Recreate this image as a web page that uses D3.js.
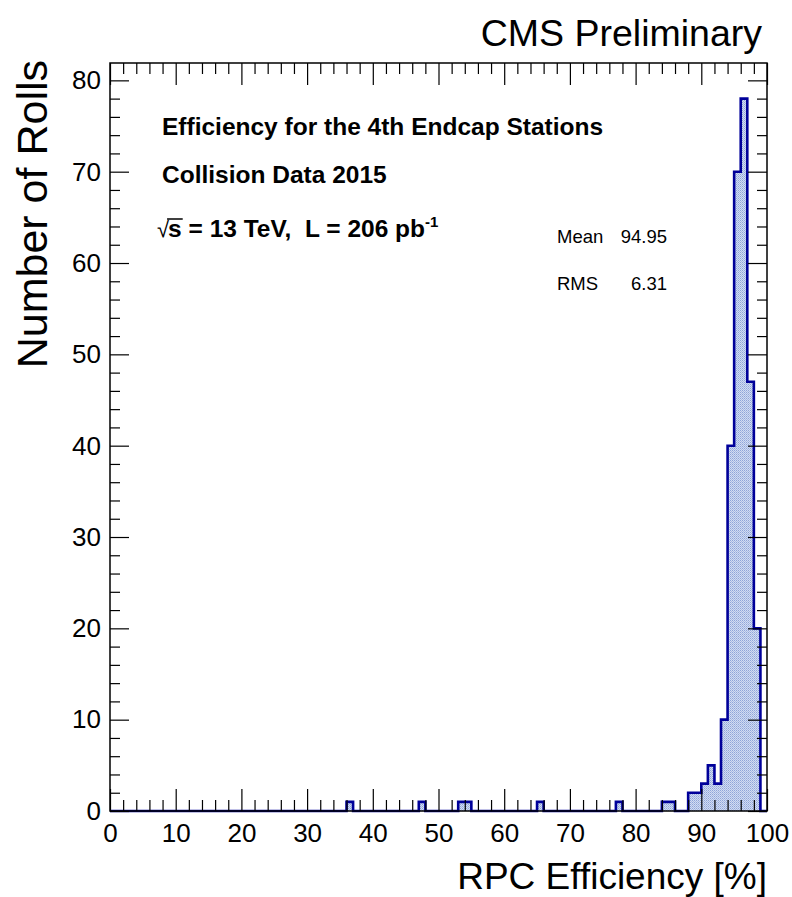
<!DOCTYPE html>
<html>
<head>
<meta charset="utf-8">
<script src="https://cdn.jsdelivr.net/npm/d3@7"></script>
<style>
  body { margin: 0; background: #fff; }
  svg text { font-family: "Liberation Sans", Arial, Helvetica, sans-serif; fill: #000; }
</style>
</head>
<body>
<script>
// histogram contents (1% bins, only the non-empty ones)
var binLow = [36, 47, 53, 54, 65, 77, 84, 85, 88, 89, 90, 91, 92, 93, 94, 95, 96, 97, 98]
var binCount = [1, 1, 1, 1, 1, 1, 1, 1, 2, 2, 3, 5, 3, 10, 40, 70, 78, 47, 20]
var xTicks = [0, 10, 20, 30, 40, 50, 60, 70, 80, 90, 100]
var yTicks = [0, 10, 20, 30, 40, 50, 60, 70, 80]
var statNames = ["Mean", "RMS"]
var statValues = ["94.95", "6.31"]
var infoLines = ["Efficiency for the 4th Endcap Stations", "Collision Data 2015"]

// full 100 bin table
var bins = d3.range(0, 100).map(function(i) {
    var k = binLow.indexOf(i)
    return { x0: i, x1: i + 1, n: k < 0 ? 0 : binCount[k] }
})

var W = 792, H = 897
var frameL = 110, frameR = 767, frameT = 63, frameB = 811

var svg = d3.select("body").append("svg").attr("width", W).attr("height", H)

var x = d3.scaleLinear().domain([0, 100]).range([frameL, frameR])
var y = d3.scaleLinear().domain([0, 81.9]).range([frameB, frameT])

// fill pattern (ROOT style dotted fill)
var pat = svg.append("defs").append("pattern").attr("id", "dots")
    .attr("width", 2).attr("height", 2).attr("patternUnits", "userSpaceOnUse")
pat.append("rect").attr("width", 2).attr("height", 2).attr("fill", "#d2dcf2")
pat.append("rect").attr("width", 1).attr("height", 1).attr("fill", "#8fa5d9")
pat.append("rect").attr("x", 1).attr("y", 1).attr("width", 1).attr("height", 1).attr("fill", "#a9bbe4")

// step outline
var pts = [[x(0), y(0)]]
bins.forEach(function(b) {
    pts.push([x(b.x0), y(b.n)])
    pts.push([x(b.x1), y(b.n)])
})
pts.push([x(100), y(0)])
var line = d3.line()

svg.append("path").attr("d", line(pts) + "Z").attr("fill", "url(#dots)").attr("stroke", "none")
svg.append("path").attr("d", line(pts)).attr("fill", "none")
    .attr("stroke", "#00009a").attr("stroke-width", 2.6).attr("stroke-linejoin", "miter")

// ticks (ROOT style, pointing inwards on all four sides)
function tickAxis(axis, tx, ty, vals, size) {
    var g = svg.append("g").attr("transform", "translate(" + tx + "," + ty + ")")
        .call(axis.tickValues(vals).tickSize(size).tickFormat(""))
    g.select(".domain").remove()
    g.selectAll("line").attr("stroke", "#000").attr("stroke-width", 1.2)
}
var xMinor = d3.range(0, 101, 2).filter(function(v) { return v % 10 })
var yMinor = d3.range(0, 81, 2).filter(function(v) { return v % 10 })
tickAxis(d3.axisTop(x), 0, frameB, xTicks, 22)
tickAxis(d3.axisTop(x), 0, frameB, xMinor, 11)
tickAxis(d3.axisBottom(x), 0, frameT, xTicks, 22)
tickAxis(d3.axisBottom(x), 0, frameT, xMinor, 11)
tickAxis(d3.axisRight(y), frameL, 0, yTicks, 19)
tickAxis(d3.axisRight(y), frameL, 0, yMinor, 10)
tickAxis(d3.axisLeft(y), frameR, 0, yTicks, 19)
tickAxis(d3.axisLeft(y), frameR, 0, yMinor, 10)

// frame
svg.append("rect").attr("x", frameL).attr("y", frameT).attr("width", frameR - frameL).attr("height", frameB - frameT)
    .attr("fill", "none").attr("stroke", "#000").attr("stroke-width", 1.5)

// tick labels
var xl = svg.append("g").attr("transform", "translate(0," + frameB + ")")
    .call(d3.axisBottom(x).tickValues(xTicks).tickSize(0).tickPadding(13))
xl.select(".domain").remove()
xl.selectAll("text").style("font-size", "26px").style("font-family", "Liberation Sans, Arial, sans-serif")

var yl = svg.append("g").attr("transform", "translate(" + frameL + ",0)")
    .call(d3.axisLeft(y).tickValues(yTicks).tickSize(0).tickPadding(9))
yl.select(".domain").remove()
yl.selectAll("text").style("font-size", "26px").style("font-family", "Liberation Sans, Arial, sans-serif")

// axis titles
svg.append("text").attr("x", frameR).attr("y", 889).attr("text-anchor", "end")
    .style("font-size", "37px").text("RPC Efficiency [%]")
svg.append("text").attr("transform", "translate(47,60) rotate(-90)").attr("text-anchor", "end")
    .style("font-size", "43px").text("Number of Rolls")
svg.append("text").attr("x", 762).attr("y", 46).attr("text-anchor", "end")
    .style("font-size", "37.5px").text("CMS Preliminary")

// info text
infoLines.forEach(function(t, i) {
    svg.append("text").attr("x", 162).attr("y", 135 + i * 48)
        .style("font-size", "24.5px").style("font-weight", "bold").text(t)
})
var rootT = svg.append("text").attr("x", 157).attr("y", 237)
    .style("font-size", "24.5px").style("font-weight", "bold").attr("xml:space", "preserve")
rootT.append("tspan").style("font-weight", "normal").style("font-size", "22px").text("\u221A")
rootT.append("tspan").attr("dx", -1).text("s")
rootT.append("tspan").text(" = 13 TeV,  L = 206 pb")
rootT.append("tspan").attr("dy", -10).style("font-size", "15px").text("-1")
var sStart = rootT.node().getStartPositionOfChar(1).x
var sEnd = rootT.node().getEndPositionOfChar(1).x
svg.append("line").attr("x1", sStart - 1).attr("x2", sEnd + 1).attr("y1", 219).attr("y2", 219)
    .attr("stroke", "#000").attr("stroke-width", 1.5)

// stats box text
statNames.forEach(function(t, i) {
    svg.append("text").attr("x", 557).attr("y", 243 + i * 47).style("font-size", "18.5px").text(t)
    svg.append("text").attr("x", 667).attr("y", 243 + i * 47).attr("text-anchor", "end")
        .style("font-size", "18.5px").text(statValues[i])
})
</script>
</body>
</html>
